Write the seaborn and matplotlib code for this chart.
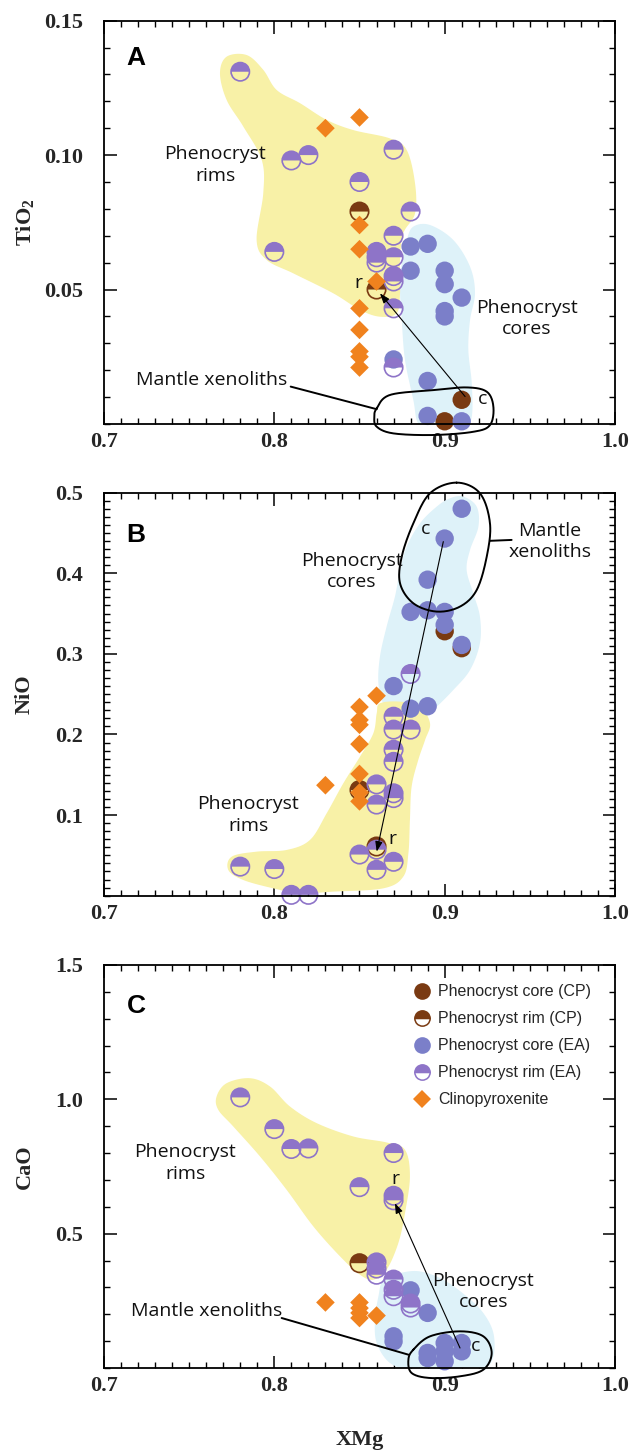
import numpy as np
import pandas as pd
import matplotlib
matplotlib.use("Agg")
import matplotlib.pyplot as plt
import seaborn as sns
from matplotlib.markers import MarkerStyle
from matplotlib.lines import Line2D
from matplotlib.ticker import MultipleLocator, FixedLocator

# ---------------- data ----------------
# Panel A : TiO2
a_cp_core_x = [0.91, 0.90]
a_cp_core_y = [0.009, 0.001]
a_cp_rim_x = [0.85, 0.86]
a_cp_rim_y = [0.079, 0.050]
a_ea_core_x = [0.88, 0.89, 0.88, 0.90, 0.90, 0.91, 0.90, 0.90, 0.87, 0.89, 0.89, 0.91]
a_ea_core_y = [0.066, 0.067, 0.057, 0.057, 0.052, 0.047, 0.042, 0.040, 0.024, 0.016, 0.003, 0.001]
a_ea_rim_x = [0.78, 0.81, 0.82, 0.87, 0.85, 0.88, 0.87, 0.80, 0.86, 0.86, 0.86, 0.87, 0.87, 0.87, 0.87, 0.87]
a_ea_rim_y = [0.131, 0.098, 0.100, 0.102, 0.090, 0.079, 0.070, 0.064, 0.064, 0.062, 0.060, 0.062, 0.055, 0.053, 0.043, 0.021]
a_cpx_x = [0.83, 0.85, 0.85, 0.85, 0.86, 0.85, 0.85, 0.85, 0.85, 0.85]
a_cpx_y = [0.110, 0.114, 0.074, 0.065, 0.053, 0.043, 0.035, 0.027, 0.025, 0.021]

# Panel B : NiO
b_cp_core_x = [0.90, 0.91]
b_cp_core_y = [0.328, 0.307]
b_cp_rim_x = [0.85, 0.86]
b_cp_rim_y = [0.131, 0.061]
b_ea_core_x = [0.91, 0.90, 0.89, 0.88, 0.89, 0.90, 0.90, 0.91, 0.87, 0.88, 0.89]
b_ea_core_y = [0.480, 0.443, 0.392, 0.352, 0.354, 0.352, 0.336, 0.311, 0.260, 0.232, 0.235]
b_ea_rim_x = [0.88, 0.87, 0.87, 0.88, 0.87, 0.87, 0.86, 0.87, 0.87, 0.86, 0.86, 0.85, 0.87, 0.86, 0.78, 0.80, 0.81, 0.82]
b_ea_rim_y = [0.275, 0.222, 0.206, 0.206, 0.181, 0.166, 0.138, 0.127, 0.121, 0.113, 0.057, 0.051, 0.042, 0.032, 0.036, 0.033, 0.001, 0.001]
b_cpx_x = [0.86, 0.85, 0.85, 0.85, 0.85, 0.85, 0.83, 0.85, 0.85]
b_cpx_y = [0.248, 0.234, 0.218, 0.212, 0.188, 0.151, 0.137, 0.128, 0.117]

# Panel C : CaO
c_cp_core_x = []
c_cp_core_y = []
c_cp_rim_x = [0.85]
c_cp_rim_y = [0.390]
c_ea_core_x = [0.88, 0.89, 0.87, 0.87, 0.89, 0.89, 0.90, 0.90, 0.90, 0.91, 0.91]
c_ea_core_y = [0.289, 0.205, 0.118, 0.099, 0.056, 0.037, 0.093, 0.062, 0.025, 0.093, 0.062]
c_ea_rim_x = [0.78, 0.80, 0.81, 0.82, 0.87, 0.85, 0.87, 0.87, 0.86, 0.86, 0.86, 0.87, 0.87, 0.87, 0.88, 0.88]
c_ea_rim_y = [1.007, 0.889, 0.815, 0.817, 0.800, 0.673, 0.641, 0.624, 0.393, 0.370, 0.347, 0.329, 0.291, 0.267, 0.240, 0.225]
c_cpx_x = [0.83, 0.85, 0.85, 0.85, 0.85, 0.86]
c_cpx_y = [0.244, 0.244, 0.223, 0.205, 0.186, 0.195]

x_ticks = [0.7, 0.8, 0.9, 1.0]
x_tick_labels = ["0.7", "0.8", "0.9", "1.0"]
a_y_ticks = [0.05, 0.10, 0.15]
a_y_tick_labels = ["0.05", "0.10", "0.15"]
b_y_ticks = [0.1, 0.2, 0.3, 0.4, 0.5]
b_y_tick_labels = ["0.1", "0.2", "0.3", "0.4", "0.5"]
c_y_ticks = [0.5, 1.0, 1.5]
c_y_tick_labels = ["0.5", "1.0", "1.5"]

legend_labels = ["Phenocryst core (CP)", "Phenocryst rim (CP)", "Phenocryst core (EA)",
                 "Phenocryst rim (EA)", "Clinopyroxenite"]

# ---------------- annotation shapes (data coords) ----------------
a_yellow = [(0.7720, 0.1366), (0.7838, 0.1372), (0.7935, 0.1317), (0.8014, 0.1242), (0.8151, 0.1193),
            (0.8307, 0.1131), (0.8464, 0.1093), (0.8679, 0.1062), (0.8777, 0.1019), (0.8826, 0.0895),
            (0.8826, 0.0783), (0.8757, 0.0709), (0.8738, 0.0610), (0.8738, 0.0486), (0.8718, 0.0412),
            (0.8620, 0.0399), (0.8503, 0.0424), (0.8346, 0.0486), (0.8112, 0.0560), (0.7955, 0.0610),
            (0.7896, 0.0684), (0.7935, 0.0858), (0.7926, 0.0982), (0.7818, 0.1106), (0.7720, 0.1205),
            (0.7681, 0.1304)]
a_blue = [(0.8816, 0.0734), (0.8914, 0.0740), (0.9051, 0.0684), (0.9149, 0.0585), (0.9178, 0.0486),
          (0.9149, 0.0387), (0.9139, 0.0275), (0.9159, 0.0151), (0.9159, 0.0027), (0.9110, -0.0022),
          (0.8933, -0.0022), (0.8845, 0.0002), (0.8816, 0.0089), (0.8767, 0.0238), (0.8748, 0.0387),
          (0.8738, 0.0498), (0.8748, 0.0598), (0.8777, 0.0684)]
a_mantle = [(0.8601, 0.0058), (0.8679, 0.0108), (0.8933, 0.0126), (0.9129, 0.0136), (0.9247, 0.0120),
            (0.9286, 0.0064), (0.9266, -0.0004), (0.9168, -0.0029), (0.8933, -0.0041), (0.8699, -0.0035),
            (0.8601, -0.0010), (0.8587, 0.0027)]
a_leader = [(0.8096, 0.0139), (0.8601, 0.0055)]

b_blue = [(0.9110, 0.4950), (0.9188, 0.4826), (0.9198, 0.4578), (0.9149, 0.4289), (0.9129, 0.4040),
          (0.9168, 0.3751), (0.9207, 0.3461), (0.9207, 0.3131), (0.9149, 0.2800), (0.9051, 0.2552),
          (0.8933, 0.2304), (0.8855, 0.2179), (0.8738, 0.2221), (0.8640, 0.2386), (0.8611, 0.2634),
          (0.8620, 0.2965), (0.8659, 0.3337), (0.8708, 0.3710), (0.8738, 0.4040), (0.8777, 0.4330),
          (0.8855, 0.4619), (0.8953, 0.4826), (0.9031, 0.4930)]
b_yellow = [(0.8620, 0.2386), (0.8738, 0.2407), (0.8855, 0.2345), (0.8914, 0.2138), (0.8885, 0.1931),
            (0.8845, 0.1683), (0.8806, 0.1352), (0.8796, 0.0939), (0.8787, 0.0525), (0.8757, 0.0236),
            (0.8640, 0.0091), (0.8346, 0.0050), (0.8151, 0.0029), (0.7994, 0.0091), (0.7818, 0.0194),
            (0.7730, 0.0318), (0.7750, 0.0484), (0.7896, 0.0546), (0.8072, 0.0567), (0.8209, 0.0691),
            (0.8307, 0.1021), (0.8405, 0.1394), (0.8503, 0.1725), (0.8581, 0.2014), (0.8601, 0.2262)]
b_mantle = [(0.9070, 0.5124), (0.9207, 0.4992), (0.9266, 0.4619), (0.9247, 0.4206), (0.9188, 0.3792),
            (0.9090, 0.3586), (0.8953, 0.3524), (0.8816, 0.3627), (0.8738, 0.3875), (0.8748, 0.4206),
            (0.8816, 0.4619), (0.8914, 0.4992)]
b_leader = [(0.9266, 0.4402), (0.9393, 0.4413)]

c_yellow = [(0.7661, 1.0103), (0.7720, 1.0599), (0.7857, 1.0785), (0.7975, 1.0475), (0.8092, 0.9731),
            (0.8249, 0.9112), (0.8464, 0.8616), (0.8659, 0.8393), (0.8767, 0.8120), (0.8796, 0.7128),
            (0.8767, 0.5765), (0.8728, 0.4649), (0.8659, 0.3657), (0.8581, 0.3285), (0.8503, 0.3471),
            (0.8386, 0.4153), (0.8229, 0.5269), (0.8072, 0.6632), (0.7916, 0.7872), (0.7759, 0.8988),
            (0.7671, 0.9608)]
c_blue = [(0.8640, 0.3285), (0.8738, 0.3533), (0.8855, 0.3595), (0.8992, 0.3285), (0.9129, 0.2665),
          (0.9227, 0.2045), (0.9286, 0.1302), (0.9286, 0.0434), (0.9227, 0.0), (0.9031, -0.0062),
          (0.8816, -0.0087), (0.8679, 0.0186), (0.8601, 0.0930), (0.8591, 0.1798), (0.8611, 0.2665)]
c_mantle = [(0.8816, 0.0682), (0.8914, 0.1178), (0.9090, 0.1364), (0.9227, 0.1178), (0.9276, 0.0558),
            (0.9227, -0.0062), (0.9090, -0.0310), (0.8914, -0.0372), (0.8806, -0.0186), (0.8787, 0.0310)]
c_leader = [(0.8043, 0.1860), (0.8787, 0.0496)]

# ---------------- style ----------------
sns.set_theme(style="ticks")
plt.rcParams["font.family"] = ["Liberation Serif", "DejaVu Serif"]
plt.rcParams["mathtext.fontset"] = "custom"
plt.rcParams["mathtext.rm"] = "Liberation Serif:bold"
plt.rcParams["mathtext.default"] = "rm"

CP = "#7A3A12"
EA_CORE = "#7B7FC9"
EA_RIM = "#8E74C8"
CPX = "#F0821E"
YEL = "#F8F1A7"
BLU = "#DEF2F9"
ANNOT_FONT = ["Open Sans", "DejaVu Sans"]
S_CIRC = 175
S_DIAM = 90


def smooth_closed(pts, n=20):
    P = np.asarray(pts, dtype=float)
    N = len(P)
    t = np.linspace(0, 1, n, endpoint=False)[:, None]
    segs = []
    for i in range(N):
        p0, p1, p2, p3 = P[i - 1], P[i], P[(i + 1) % N], P[(i + 2) % N]
        segs.append(0.5 * (2 * p1 + (-p0 + p2) * t + (2 * p0 - 5 * p1 + 4 * p2 - p3) * t ** 2
                           + (-p0 + 3 * p1 - 3 * p2 + p3) * t ** 3))
    out = np.vstack(segs)
    return np.vstack([out, out[:1]])


def draw_points(ax, cp_cx, cp_cy, cp_rx, cp_ry, ea_cx, ea_cy, ea_rx, ea_ry, px, py):
    common = dict(ax=ax, legend=False, clip_on=False)
    if len(cp_cx):
        sns.scatterplot(x=cp_cx, y=cp_cy, marker="o", s=S_CIRC, color=CP, edgecolor="none",
                        linewidth=0, zorder=5, **common)
    # CP rims: open circle + filled top half
    sns.scatterplot(x=cp_rx, y=cp_ry, marker="o", s=S_CIRC, facecolor="none", edgecolor=CP,
                    linewidth=1.2, zorder=6, **common)
    sns.scatterplot(x=cp_rx, y=cp_ry, marker=MarkerStyle("o", fillstyle="top"), s=S_CIRC,
                    color=CP, edgecolor="none", linewidth=0, zorder=6, **common)
    sns.scatterplot(x=ea_cx, y=ea_cy, marker="o", s=S_CIRC, color=EA_CORE, edgecolor="none",
                    linewidth=0, zorder=7, **common)
    sns.scatterplot(x=ea_rx, y=ea_ry, marker="o", s=S_CIRC, facecolor="none", edgecolor=EA_RIM,
                    linewidth=1.2, zorder=8, **common)
    sns.scatterplot(x=ea_rx, y=ea_ry, marker=MarkerStyle("o", fillstyle="top"), s=S_CIRC,
                    color=EA_RIM, edgecolor="none", linewidth=0, zorder=8, **common)
    sns.scatterplot(x=px, y=py, marker="D", s=S_DIAM, color=CPX, edgecolor="none",
                    linewidth=0, zorder=9, **common)


def draw_regions(ax, yellow, blue, mantle, leader):
    b = smooth_closed(blue)
    ax.fill(b[:, 0], b[:, 1], color=BLU, lw=0, zorder=1)
    y = smooth_closed(yellow)
    ax.fill(y[:, 0], y[:, 1], color=YEL, lw=0, zorder=1.5)
    m = smooth_closed(mantle)
    ax.plot(m[:, 0], m[:, 1], color="black", lw=1.4, zorder=10, clip_on=False)
    lx, ly = zip(*leader)
    ax.plot(lx, ly, color="black", lw=1.4, zorder=10, clip_on=False)


def annot(ax, s, x, y, size=14):
    ax.text(x, y, s, family=ANNOT_FONT, fontsize=size, ha="center", va="center",
            linespacing=1.25, color="#111111", zorder=12)


def setup_axes(ax, ymax, yticks, ylabels, yminor, ylabel, letter, letter_y):
    ax.set_xlim(0.7, 1.0)
    ax.set_ylim(0, ymax)
    ax.set_xticks(x_ticks, x_tick_labels, fontsize=16, fontweight="bold")
    ax.set_yticks(yticks, ylabels, fontsize=16, fontweight="bold")
    ax.xaxis.set_minor_locator(MultipleLocator(0.01))
    ax.yaxis.set_minor_locator(MultipleLocator(yminor))
    ax.tick_params(which="both", direction="in", top=True, right=True, color="black")
    ax.tick_params(which="major", length=9, width=1.1)
    ax.tick_params(which="minor", length=4.5, width=1.0)
    ax.tick_params(axis="x", which="major", pad=6)
    ax.tick_params(axis="y", which="major", pad=15)
    for sp in ax.spines.values():
        sp.set_color("black")
        sp.set_linewidth(1.3)
        sp.set_visible(True)
        sp.set_zorder(11)
    ax.set_ylabel(ylabel, fontsize=16, fontweight="bold", va="center")
    ax.yaxis.set_label_coords(-0.1546, 0.5)
    ax.text(0.044, letter_y, letter, transform=ax.transAxes, family=["Liberation Sans", "DejaVu Sans"],
            fontsize=19, fontweight="bold", ha="left", va="baseline", color="black", zorder=12)


def arrow(ax, start, end):
    ax.annotate("", xy=end, xytext=start,
                arrowprops=dict(arrowstyle="-|>,head_length=0.5,head_width=0.18", lw=0.8,
                                color="black", shrinkA=0, shrinkB=0, mutation_scale=12),
                zorder=13)


fig = plt.figure(figsize=(6.36, 14.54), dpi=100)
axA = fig.add_axes([0.1635, 0.7084, 0.8035, 0.2774])
axB = fig.add_axes([0.1635, 0.3840, 0.8035, 0.2772])
axC = fig.add_axes([0.1635, 0.05915, 0.8035, 0.2772])

# ---- Panel A ----
draw_regions(axA, a_yellow, a_blue, a_mantle, a_leader)
draw_points(axA, a_cp_core_x, a_cp_core_y, a_cp_rim_x, a_cp_rim_y,
            a_ea_core_x, a_ea_core_y, a_ea_rim_x, a_ea_rim_y, a_cpx_x, a_cpx_y)
setup_axes(axA, 0.15, a_y_ticks, a_y_tick_labels, 0.01, "TiO$_2$", "A", 0.89)
annot(axA, "Phenocryst\nrims", 0.7652, 0.0963)
annot(axA, "Phenocryst\ncores", 0.9481, 0.0393)
annot(axA, "Mantle xenoliths", 0.7632, 0.0164)
annot(axA, "r", 0.8493, 0.0523)
annot(axA, "c", 0.9223, 0.0092)
arrow(axA, (0.912, 0.0102), (0.862, 0.0486))

# ---- Panel B ----
draw_regions(axB, b_yellow, b_blue, b_mantle, b_leader)
draw_points(axB, b_cp_core_x, b_cp_core_y, b_cp_rim_x, b_cp_rim_y,
            b_ea_core_x, b_ea_core_y, b_ea_rim_x, b_ea_rim_y, b_cpx_x, b_cpx_y)
setup_axes(axB, 0.5, b_y_ticks, b_y_tick_labels, 0.01, "NiO", "B", 0.878)
annot(axB, "Phenocryst\ncores", 0.8454, 0.4020)
annot(axB, "Mantle\nxenoliths", 0.9618, 0.4392)
annot(axB, "Phenocryst\nrims", 0.7847, 0.1001)
annot(axB, "c", 0.8890, 0.4545)
annot(axB, "r", 0.8695, 0.0699)
arrow(axB, (0.8992, 0.4392), (0.8601, 0.0546))

# ---- Panel C ----
draw_regions(axC, c_yellow, c_blue, c_mantle, c_leader)
draw_points(axC, c_cp_core_x, c_cp_core_y, c_cp_rim_x, c_cp_rim_y,
            c_ea_core_x, c_ea_core_y, c_ea_rim_x, c_ea_rim_y, c_cpx_x, c_cpx_y)
setup_axes(axC, 1.5, c_y_ticks, c_y_tick_labels, 0.1, "CaO", "C", 0.882)
annot(axC, "Phenocryst\nrims", 0.7476, 0.7624)
annot(axC, "Phenocryst\ncores", 0.9227, 0.2851)
annot(axC, "Mantle xenoliths", 0.7603, 0.2107)
annot(axC, "r", 0.8708, 0.7029)
annot(axC, "c", 0.9182, 0.0806)
arrow(axC, (0.9090, 0.0744), (0.8708, 0.6136))
axC.set_xlabel("XMg", fontsize=16, fontweight="bold", va="center")
axC.xaxis.set_label_coords(0.5, -0.1785)

handles = [
    Line2D([], [], ls="", marker="o", markersize=12, markerfacecolor=CP, markeredgecolor=CP, markeredgewidth=0),
    Line2D([], [], ls="", marker="o", markersize=11, fillstyle="top", markerfacecolor=CP,
           markerfacecoloralt="white", markeredgecolor=CP, markeredgewidth=1.1),
    Line2D([], [], ls="", marker="o", markersize=12, markerfacecolor=EA_CORE, markeredgecolor=EA_CORE, markeredgewidth=0),
    Line2D([], [], ls="", marker="o", markersize=11, fillstyle="top", markerfacecolor=EA_RIM,
           markerfacecoloralt="white", markeredgecolor=EA_RIM, markeredgewidth=1.1),
    Line2D([], [], ls="", marker="D", markersize=9, markerfacecolor=CPX, markeredgecolor=CPX, markeredgewidth=0),
]
axC.legend(handles, legend_labels, loc="upper left", bbox_to_anchor=(0.603, 0.952), frameon=False,
           prop={"family": ["Liberation Sans", "DejaVu Sans"], "size": 11.5}, handletextpad=0.45,
           labelspacing=0.75, handlelength=1.2, borderpad=0, borderaxespad=0)

fig.savefig("out.png", dpi=100)
